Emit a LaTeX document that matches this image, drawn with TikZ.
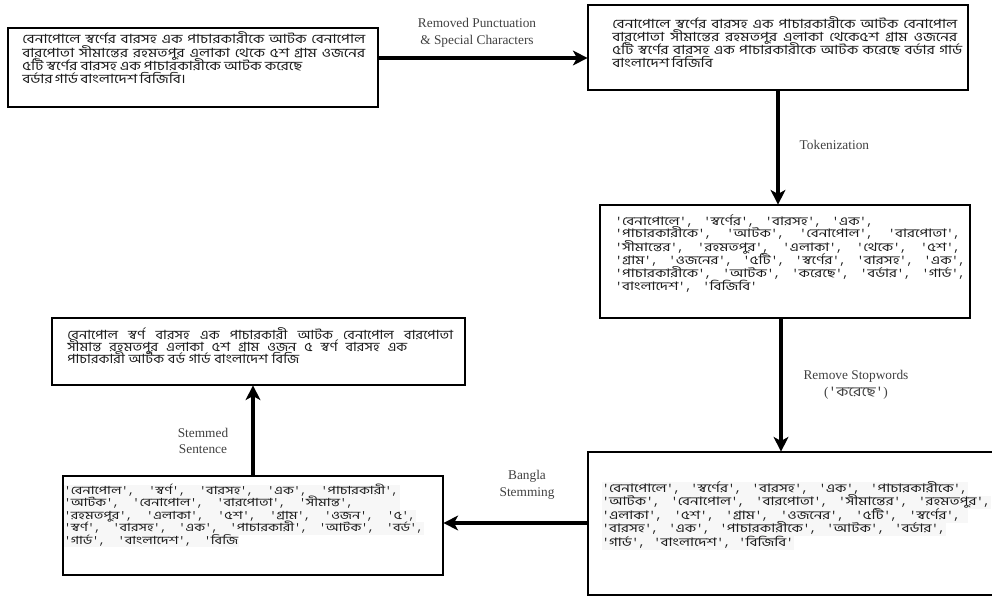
\documentclass[tikz,border=0pt]{standalone}
\usepackage{fontspec}
\setmainfont{Liberation Serif}
\newfontfamily\bn[Script=Bengali,FakeStretch=1.22]{Hind Siliguri}
\newfontfamily\bnw[Script=Bengali,FakeStretch=1.3]{Hind Siliguri}
\newfontfamily\bnm[Script=Bengali,FakeStretch=1.15]{Hind Siliguri}
\newfontfamily\mn{Liberation Mono}[Scale=0.97,Ligatures=TeXOff]
\usetikzlibrary{arrows.meta,fit,calc}
\newcommand\mq{\mn}
\newcommand\tkw[1]{{\mq'}#1{\mq'}}
\newcommand\tksep{{\mq, }}
\newcommand\tkc{{\mq,}}
\newcommand\fitw[2]{\makebox[\dimexpr #1pt*3/4\relax][s]{#2}}
\begin{document}
\begin{tikzpicture}[x=0.75pt,y=-0.75pt,
  box/.style={draw=black!45,line width=0.5pt,double=black,double distance=1.1pt,inner sep=0pt},
  sen/.style={anchor=base west,inner sep=0pt,text=black!90,font=\bn\fontsize{9.5}{10}\selectfont},
  stm/.style={sen,font=\bnm\fontsize{9.5}{10}\selectfont},
  tokm/.style={sen,font=\bnw\fontsize{8.8}{10}\selectfont},
  toks/.style={sen,font=\bnw\fontsize{8.4}{9}\selectfont},
  hl/.style={fill=black!3},
  lab/.style={font=\fontsize{10}{12.5}\selectfont,text=black!75,align=center},
  flow/.style={line width=3.4pt,-{Stealth[length=11pt,width=11pt,inset=3pt]}}]
\useasboundingbox (0,0) rectangle (992,599);

% boxes
\node[box,fit={(8,28) (378,107)}] (b1) {};
\node[box,fit={(588,5) (968,90)}] (b2) {};
\node[box,fit={(600,205) (970,318)}] (b3) {};
\node[box,fit={(52,318) (465,385)}] (b4) {};
\node[box,fit={(63,476) (443,575)}] (b5) {};
\node[box,fit={(588,452) (996,595)}] (b6) {};

% faint highlight behind the token lines of boxes 5 and 6
\fill[hl] (64,484.5) rectangle (400,497);
\fill[hl] (64,497) rectangle (400,509.5);
\fill[hl] (64,509.5) rectangle (416,522);
\fill[hl] (64,522) rectangle (424,534.5);
\fill[hl] (64,534.5) rectangle (239,547);
\fill[hl] (602,482) rectangle (968,495.5);
\fill[hl] (602,495.5) rectangle (991,509);
\fill[hl] (602,509) rectangle (968,522.5);
\fill[hl] (602,522.5) rectangle (946,536);
\fill[hl] (602,536) rectangle (794,549.5);

% box 1 text
\node[sen] (t1a) at (22,44) {\fitw{343}{বেনাপোলে স্বর্ণের বারসহ এক পাচারকারীকে আটক বেনাপোল}};
\node[sen] (t1b) at (22,57.3) {\fitw{343}{বারপোতা সীমান্তের রহমতপুর এলাকা থেকে ৫শ গ্রাম ওজনের}};
\node[sen] (t1c) at (22,70.6) {\fitw{280}{৫টি স্বর্ণের বারসহ এক পাচারকারীকে আটক করেছে}};
\node[sen] (t1d) at (22,84) {\fitw{160}{বর্ডার গার্ড বাংলাদেশ বিজিবি।}};

% box 2 text
\node[sen] (t2a) at (612,29) {\fitw{345}{বেনাপোলে স্বর্ণের বারসহ এক পাচারকারীকে আটক বেনাপোল}};
\node[sen] (t2b) at (612,42) {\fitw{345}{বারপোতা সীমান্তের রহমতপুর এলাকা থেকে৫শ গ্রাম ওজনের}};
\node[sen] (t2c) at (612,55) {\fitw{350}{৫টি স্বর্ণের বারসহ এক পাচারকারীকে আটক করেছে বর্ডার গার্ড}};
\node[sen] (t2d) at (612,68) {\fitw{90}{বাংলাদেশ বিজিবি}};

% box 3 text
\node[tokm] (t3a) at (615,225) {\fitw{258}{\tkw{বেনাপোলে}\tksep\tkw{স্বর্ণের}\tksep\tkw{বারসহ}\tksep\tkw{এক}\tkc}};
\node[tokm] (t3b) at (615,238) {\fitw{345}{\tkw{পাচারকারীকে}\tksep\tkw{আটক}\tksep\tkw{বেনাপোল}\tksep\tkw{বারপোতা}\tkc}};
\node[tokm] (t3c) at (615,251) {\fitw{345}{\tkw{সীমান্তের}\tksep\tkw{রহমতপুর}\tksep\tkw{এলাকা}\tksep\tkw{থেকে}\tksep\tkw{৫শ}\tkc}};
\node[tokm] (t3d) at (615,264) {\fitw{350}{\tkw{গ্রাম}\tksep\tkw{ওজনের}\tksep\tkw{৫টি}\tksep\tkw{স্বর্ণের}\tksep\tkw{বারসহ}\tksep\tkw{এক}\tkc}};
\node[tokm] (t3e) at (615,277) {\fitw{350}{\tkw{পাচারকারীকে}\tksep\tkw{আটক}\tksep\tkw{করেছে}\tksep\tkw{বর্ডার}\tksep\tkw{গার্ড}\tkc}};
\node[tokm] (t3f) at (615,290) {\fitw{142}{\tkw{বাংলাদেশ}\tksep\tkw{বিজিবি}}};

% box 4 text
\node[stm] (t4a) at (67,339) {\fitw{386}{বেনাপোল স্বর্ণ বারসহ এক পাচারকারী আটক বেনাপোল বারপোতা}};
\node[stm] (t4b) at (67,351) {\fitw{340}{সীমান্ত রহমতপুর এলাকা ৫শ গ্রাম ওজন ৫ স্বর্ণ বারসহ এক}};
\node[stm] (t4c) at (67,363) {\fitw{232}{পাচারকারী আটক বর্ড গার্ড বাংলাদেশ বিজি}};

% box 5 text
\node[toks] (t5a) at (64,494) {\fitw{334}{\tkw{বেনাপোল}\tksep\tkw{স্বর্ণ}\tksep\tkw{বারসহ}\tksep\tkw{এক}\tksep\tkw{পাচারকারী}\tkc}};
\node[toks] (t5b) at (64,506.5) {\fitw{289}{\tkw{আটক}\tksep\tkw{বেনাপোল}\tksep\tkw{বারপোতা}\tksep\tkw{সীমান্ত}\tkc}};
\node[toks] (t5c) at (64,519) {\fitw{351}{\tkw{রহমতপুর}\tksep\tkw{এলাকা}\tksep\tkw{৫শ}\tksep\tkw{গ্রাম}\tksep\tkw{ওজন}\tksep\tkw{৫}\tkc}};
\node[toks] (t5d) at (64,531.5) {\fitw{359}{\tkw{স্বর্ণ}\tksep\tkw{বারসহ}\tksep\tkw{এক}\tksep\tkw{পাচারকারী}\tksep\tkw{আটক}\tksep\tkw{বর্ড}\tkc}};
\node[toks] (t5e) at (64,544) {\fitw{174}{\tkw{গার্ড}\tksep\tkw{বাংলাদেশ}\tksep{\mq'}বিজি}};

% box 6 text
\node[tokm] (t6a) at (602,492) {\fitw{365}{\tkw{বেনাপোলে}\tksep\tkw{স্বর্ণের}\tksep\tkw{বারসহ}\tksep\tkw{এক}\tksep\tkw{পাচারকারীকে}\tkc}};
\node[tokm] (t6b) at (602,505.5) {\fitw{388}{\tkw{আটক}\tksep\tkw{বেনাপোল}\tksep\tkw{বারপোতা}\tksep\tkw{সীমান্তের}\tksep\tkw{রহমতপুর}\tkc}};
\node[tokm] (t6c) at (602,519) {\fitw{358}{\tkw{এলাকা}\tksep\tkw{৫শ}\tksep\tkw{গ্রাম}\tksep\tkw{ওজনের}\tksep\tkw{৫টি}\tksep\tkw{স্বর্ণের}\tkc}};
\node[tokm] (t6d) at (602,532.5) {\fitw{343}{\tkw{বারসহ}\tksep\tkw{এক}\tksep\tkw{পাচারকারীকে}\tksep\tkw{আটক}\tksep\tkw{বর্ডার}\tkc}};
\node[tokm] (t6e) at (602,546) {\fitw{191}{\tkw{গার্ড}\tksep\tkw{বাংলাদেশ}\tksep\tkw{বিজিবি}}};

% connector anchors
\coordinate (a1) at (0,58);
\coordinate (a2) at (778,0);
\coordinate (a3) at (781,0);
\coordinate (a4) at (0,523);
\coordinate (a5) at (253,0);

\draw[flow] (b1.east |- a1) -- (b2.west |- a1);
\draw[flow] (b2.south -| a2) -- (b3.north -| a2);
\draw[flow] (b3.south -| a3) -- (b6.north -| a3);
\draw[flow] (b6.west |- a4) -- (b5.east |- a4);
\draw[flow] (b5.north -| a5) -- (b4.south -| a5);

% labels
\node[lab] (l1) at (477,33) {Removed Punctuation\\\& Special Characters};
\node[lab,anchor=west] (l2) at (795,145) {Tokenization};
\node[lab] (l3) at (856,385) {Remove Stopwords\\({\mq'}{\bn করেছে}{\mq'})};
\node[lab] (l4) at (527,485) {Bangla\\Stemming};
\node[lab] (l5) at (203,441) {Stemmed\\Sentence};
\end{tikzpicture}
\end{document}
